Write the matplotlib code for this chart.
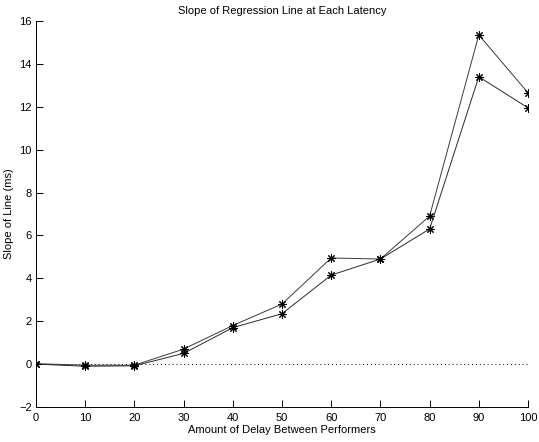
import matplotlib
matplotlib.use("Agg")
import matplotlib.pyplot as plt

delay = [0, 10, 20, 30, 40, 50, 60, 70, 80, 90, 100]
slope_a = [0.02, -0.05, -0.05, 0.70, 1.80, 2.80, 4.95, 4.90, 6.90, 15.35, 12.65]
slope_b = [0.00, -0.10, -0.08, 0.50, 1.70, 2.35, 4.15, 4.90, 6.30, 13.40, 11.95]
x_ticks = [0, 10, 20, 30, 40, 50, 60, 70, 80, 90, 100]
y_ticks = [-2, 0, 2, 4, 6, 8, 10, 12, 14, 16]

plt.rcParams["font.family"] = ["Liberation Sans", "DejaVu Sans"]

fig = plt.figure(figsize=(5.39, 4.42), dpi=100)
ax = fig.add_axes([0.0668, 0.0792, 0.9128, 0.8733])

ax.plot(delay, [0] * len(delay), linestyle=(0, (1, 3)), color="black", linewidth=0.7)
asterisk = (8, 2, 0)
for ys, col in ((slope_a, "#3a3a3a"), (slope_b, "#2a2a2a")):
    ax.plot(delay, ys, color=col, linewidth=0.7, marker=asterisk, markersize=6,
            markerfacecolor="none", markeredgecolor="black", markeredgewidth=0.75)

ax.set_xlim(0, 100)
ax.set_ylim(-2, 16)
ax.set_xticks(x_ticks)
ax.set_yticks(y_ticks)
ax.set_yticklabels(["\u22122" if v < 0 else str(v) for v in y_ticks])
ax.tick_params(direction="in", length=5, width=0.7, labelsize=8)
ax.tick_params(axis="x", pad=4)
ax.tick_params(axis="y", pad=3)

for side in ("top", "right"):
    ax.spines[side].set_visible(False)
for side in ("left", "bottom"):
    ax.spines[side].set_linewidth(0.7)

ax.set_title("Slope of Regression Line at Each Latency", fontsize=8, pad=5)
ax.set_xlabel("Amount of Delay Between Performers", fontsize=8, labelpad=1.5)
ax.set_ylabel("Slope of Line (ms)", fontsize=8, labelpad=4)

fig.savefig("out.png", dpi=100)
